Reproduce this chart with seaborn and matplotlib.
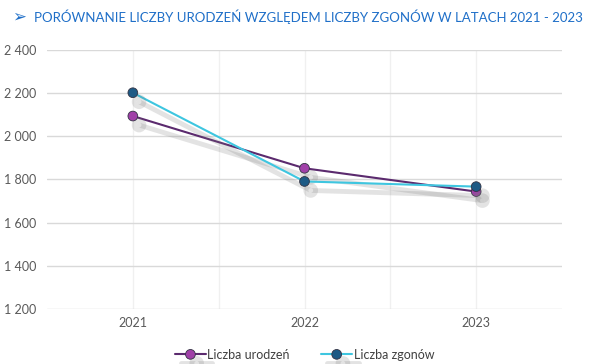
import matplotlib
matplotlib.use("Agg")
import matplotlib.pyplot as plt
import matplotlib.patheffects as pe
import seaborn as sns
import pandas as pd
from matplotlib.ticker import FuncFormatter, FixedLocator

years = ["2021", "2022", "2023"]
urodzenia = [2094, 1852, 1744]
zgony = [2202, 1791, 1767]
series_names = ["Liczba urodzeń", "Liczba zgonów"]
title = "PORÓWNANIE LICZBY URODZEŃ WZGLĘDEM LICZBY ZGONÓW W LATACH 2021 - 2023"

df = pd.DataFrame({
    "Rok": years * 2,
    "Wartość": urodzenia + zgony,
    "Seria": [series_names[0]] * 3 + [series_names[1]] * 3,
})

sns.set_theme(style="white")
plt.rcParams['font.family'] = ['Lato', 'DejaVu Sans']

fig = plt.figure(figsize=(5.89, 3.64), dpi=100)
ax = fig.add_axes([47/589, 1 - 309/364, (562-47)/589, (309-50)/364])

line_colors = {series_names[0]: "#5B2A6E", series_names[1]: "#3EC6E0"}
marker_colors = {series_names[0]: "#A040A8", series_names[1]: "#1D5A85"}

shadow = [pe.SimpleLineShadow(offset=(4.5, -6.5), shadow_color="#777777", alpha=0.2, linewidth=3.5), pe.Normal()]

for name in series_names:
    sub = df[df["Seria"] == name]
    sns.lineplot(data=sub, x="Rok", y="Wartość", ax=ax, color=line_colors[name],
                 linewidth=1.5, marker="o", markersize=7,
                 markerfacecolor=marker_colors[name], markeredgecolor="#333344",
                 markeredgewidth=0.6, label=name, path_effects=shadow, sort=False)

ax.set_xlim(-0.5, 2.5)
ax.set_ylim(1200, 2400)
ax.yaxis.set_major_locator(FixedLocator([1200, 1400, 1600, 1800, 2000, 2200, 2400]))
ax.yaxis.set_major_formatter(FuncFormatter(lambda v, p: f"{int(v):,}".replace(",", " ")))
ax.set_xticks([0, 1, 2])
ax.set_xticklabels(years)
ax.set_xlabel("")
ax.set_ylabel("")
ax.grid(axis="y", color="#D9D9D9", linewidth=1)
ax.xaxis.set_minor_locator(FixedLocator([0.5, 1.5]))
ax.grid(axis="x", which="both", color="#F0F0F0", linewidth=1)
ax.set_axisbelow(True)
for s in ax.spines.values():
    s.set_visible(False)
ax.tick_params(axis="both", length=0, labelsize=9, labelcolor="#595959", pad=6)
ax.tick_params(axis="y", pad=8)

leg = ax.legend(loc="upper center", bbox_to_anchor=(0.5, -0.11), ncol=2, frameon=False,
                fontsize=9, handlelength=2.5, columnspacing=2.5, handletextpad=0.1,
                labelcolor="#404040")

fig.text(12/589, 1 - 17/364, "➢", fontsize=12, color="#1F6FC8", va="center", ha="left",
         family=['DejaVu Sans'])
fig.text(34/589, 1 - 17/364, title, fontsize=9.5, color="#1F6FC8", va="center", ha="left")

fig.savefig("out.png", dpi=100)
